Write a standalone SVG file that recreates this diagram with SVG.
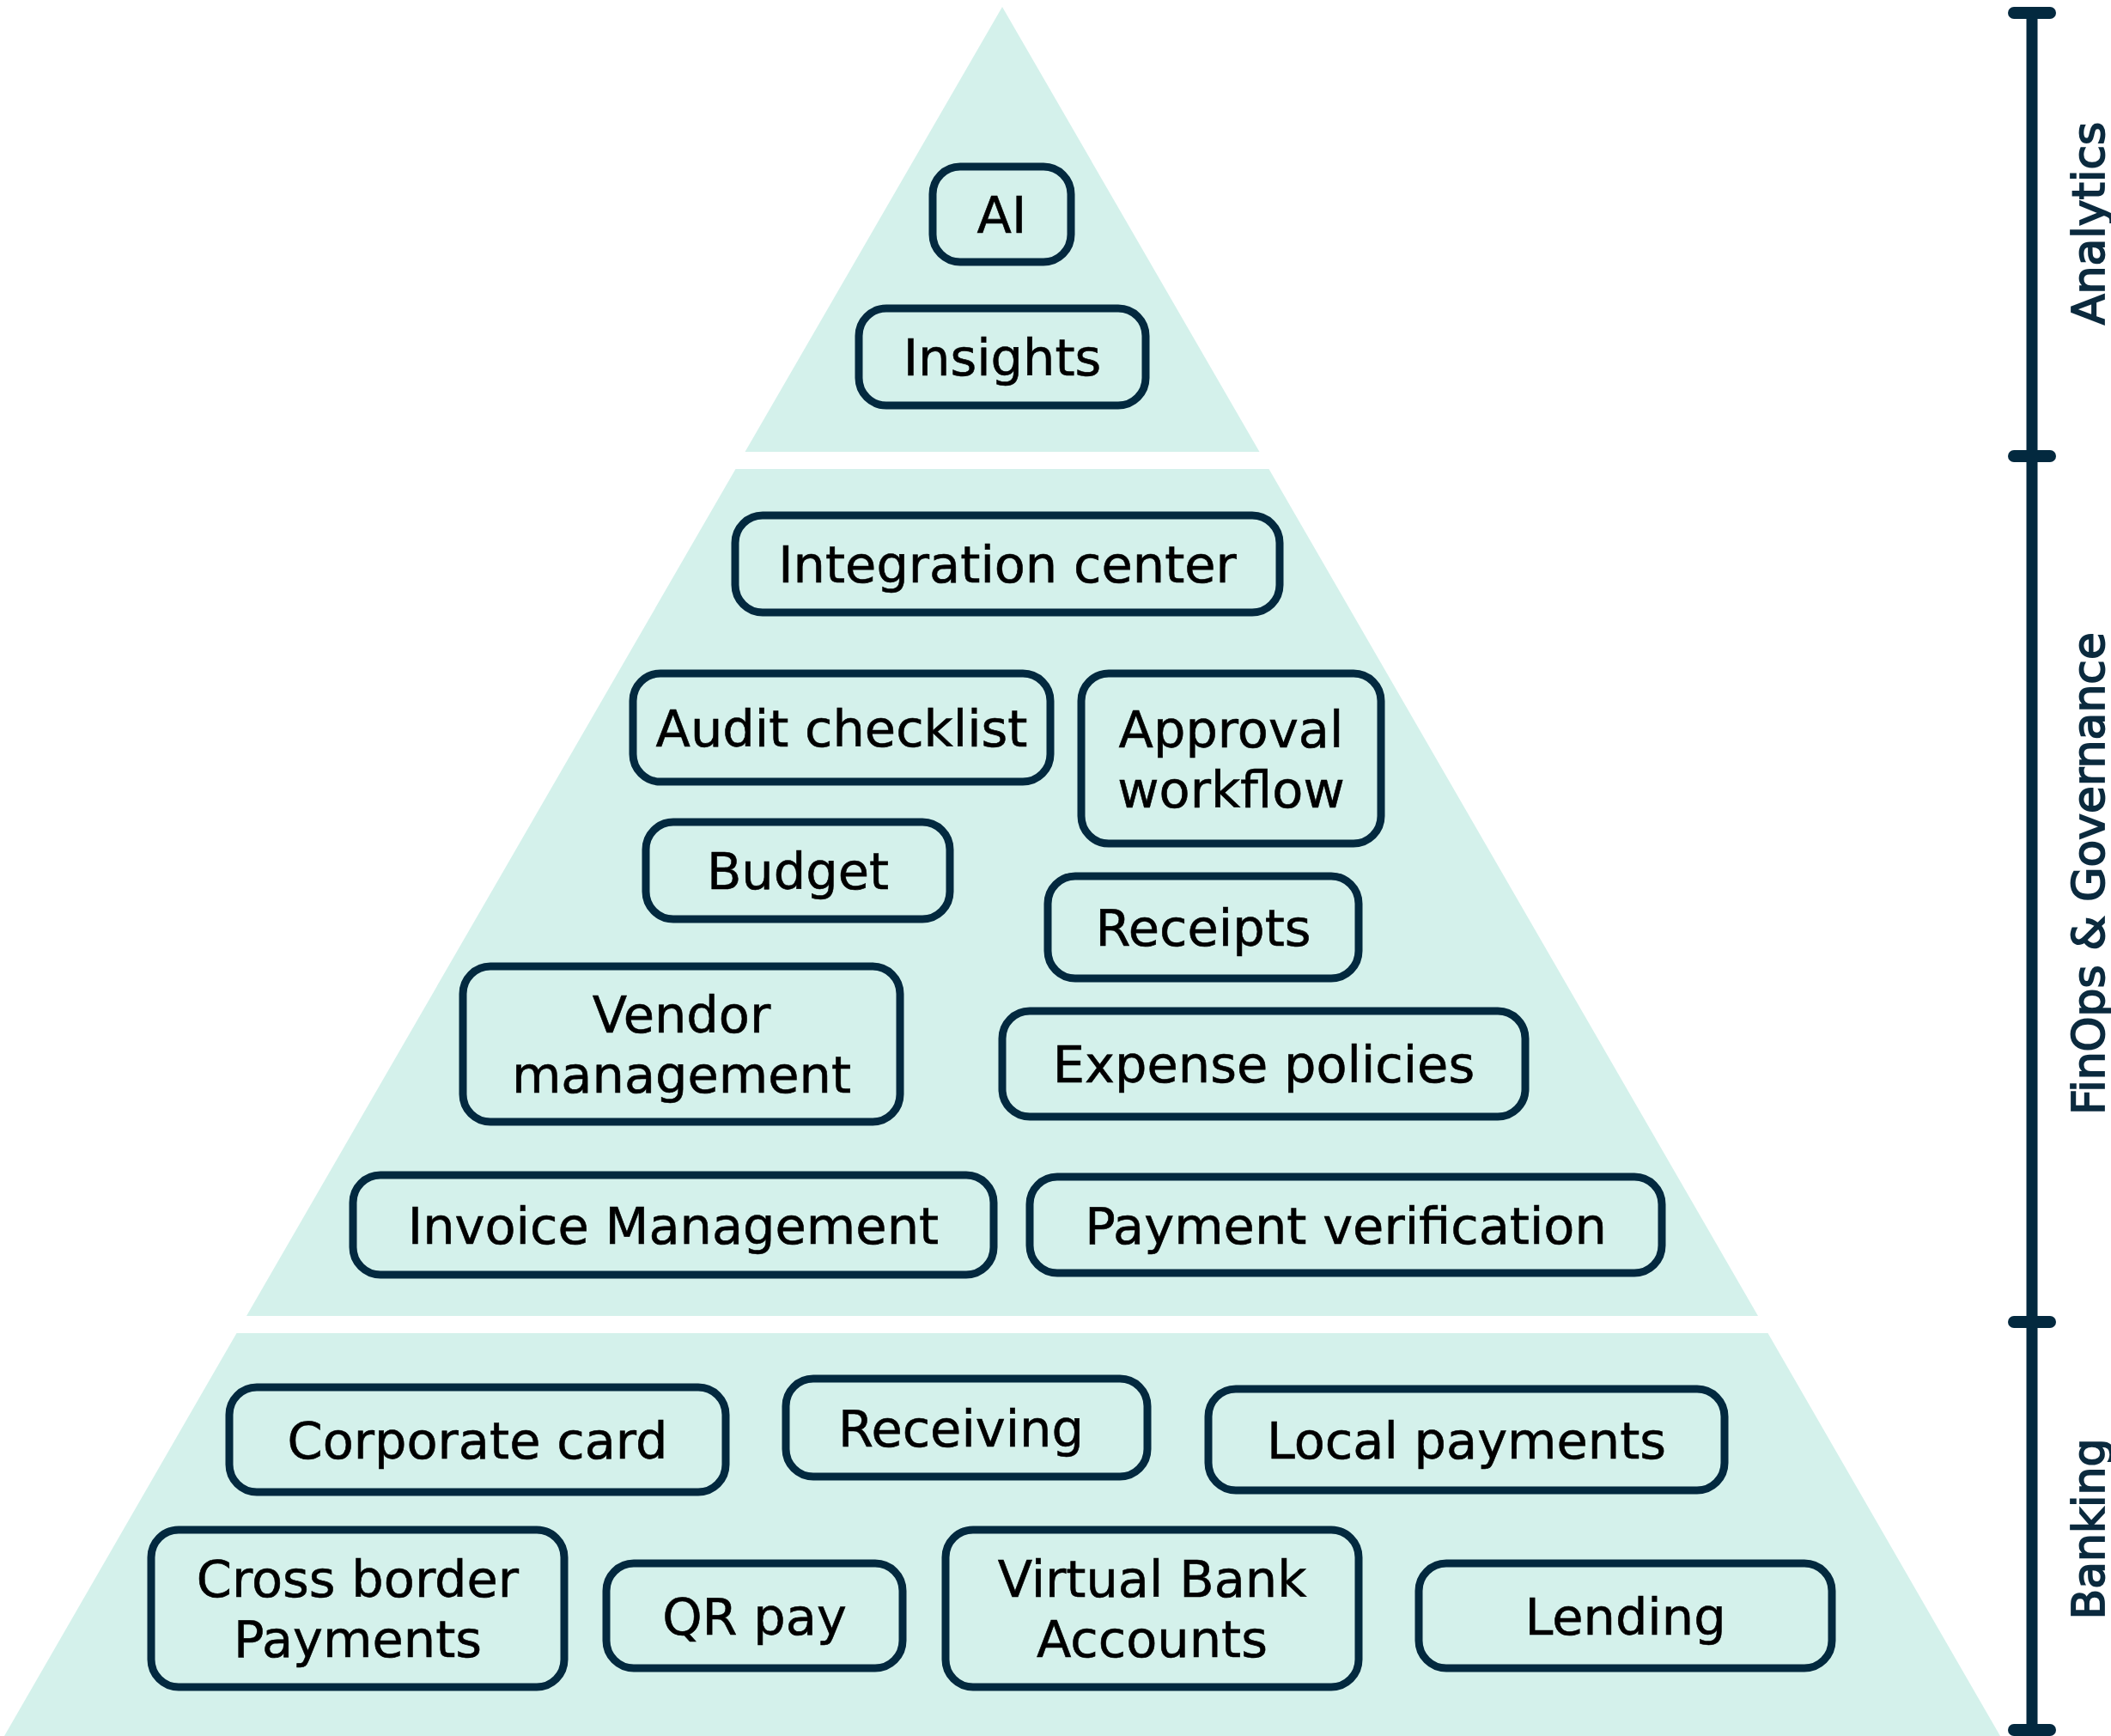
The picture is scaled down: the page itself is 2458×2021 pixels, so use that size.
<svg xmlns="http://www.w3.org/2000/svg" width="2458" height="2021" viewBox="0 0 2458 2021">
  <style>
    .tier { fill: #d4f1eb; }
    .box { fill: #d4f1eb; stroke: #03293f; stroke-width: 9; }
    .lbl { font-family: "DejaVu Sans", "Liberation Sans", sans-serif; font-size: 59px; fill: #000; stroke: #000; stroke-width: 0.6; text-anchor: middle; }
    .side { font-family: "DejaVu Sans", "Liberation Sans", sans-serif; font-size: 52px; fill: #0b2a3e; stroke: #0b2a3e; stroke-width: 1.8; text-anchor: middle; }
    .axis { stroke: #03293f; stroke-width: 13; fill: none; }
    .tick { stroke: #03293f; stroke-width: 14; stroke-linecap: round; fill: none; }
  </style>
  <rect width="2458" height="2021" fill="#ffffff"/>

  <g id="tiers">
    <polygon class="tier" points="1167,8 1466.5,526 867.5,526"/>
    <polygon class="tier" points="856.5,546 1477.5,546 2047,1532 287,1532"/>
    <polygon class="tier" points="275.5,1552 2058.5,1552 2329,2021 5,2021"/>
  </g>

  <g id="axis">
    <line class="axis" x1="2366" y1="15" x2="2366" y2="2014"/>
    <line class="tick" x1="2345" y1="15" x2="2387" y2="15"/>
    <line class="tick" x1="2345" y1="531" x2="2387" y2="531"/>
    <line class="tick" x1="2345" y1="1539" x2="2387" y2="1539"/>
    <line class="tick" x1="2345" y1="2014" x2="2387" y2="2014"/>
    <text class="side" transform="translate(2450,260) rotate(-90)">Analytics</text>
    <text class="side" transform="translate(2450,1017) rotate(-90)">FinOps &amp; Governance</text>
    <text class="side" transform="translate(2450,1780) rotate(-90)">Banking</text>
  </g>

  <g id="connectors"></g>

  <g id="node-ai">
    <rect class="box" x="1086" y="194" width="161" height="111" rx="32"/>
    <text class="lbl" x="1166.5" y="271">AI</text>
  </g>
  <g id="node-insights">
    <rect class="box" x="1000" y="359" width="334" height="113" rx="32"/>
    <text class="lbl" x="1167" y="437">Insights</text>
  </g>
  <g id="node-integration-center">
    <rect class="box" x="856" y="600" width="634" height="113" rx="32"/>
    <text class="lbl" x="1173" y="678">Integration center</text>
  </g>
  <g id="node-audit-checklist">
    <rect class="box" x="737" y="784" width="486" height="126" rx="32"/>
    <text class="lbl" x="980" y="868.5">Audit checklist</text>
  </g>
  <g id="node-approval-workflow">
    <rect class="box" x="1259" y="784" width="349" height="198" rx="32"/>
    <text class="lbl" x="1433.5" y="869.5">Approval</text>
    <text class="lbl" x="1433.5" y="939.5">workflow</text>
  </g>
  <g id="node-budget">
    <rect class="box" x="752" y="957" width="354" height="113" rx="32"/>
    <text class="lbl" x="929" y="1035">Budget</text>
  </g>
  <g id="node-receipts">
    <rect class="box" x="1220" y="1020" width="362" height="119" rx="32"/>
    <text class="lbl" x="1401" y="1101">Receipts</text>
  </g>
  <g id="node-vendor-management">
    <rect class="box" x="539" y="1125" width="509" height="181" rx="32"/>
    <text class="lbl" x="793.5" y="1202">Vendor</text>
    <text class="lbl" x="793.5" y="1272">management</text>
  </g>
  <g id="node-expense-policies">
    <rect class="box" x="1167" y="1177" width="609" height="123" rx="32"/>
    <text class="lbl" x="1471.5" y="1260">Expense policies</text>
  </g>
  <g id="node-invoice-management">
    <rect class="box" x="411" y="1368" width="746" height="116" rx="32"/>
    <text class="lbl" x="784" y="1447.5">Invoice Management</text>
  </g>
  <g id="node-payment-verification">
    <rect class="box" x="1199" y="1370" width="736" height="112" rx="32"/>
    <text class="lbl" x="1567" y="1447.5">Payment verification</text>
  </g>
  <g id="node-corporate-card">
    <rect class="box" x="267" y="1615" width="578" height="122" rx="32"/>
    <text class="lbl" x="556" y="1697.5">Corporate card</text>
  </g>
  <g id="node-receiving">
    <rect class="box" x="915" y="1605" width="421" height="114" rx="32"/>
    <text class="lbl" x="1119" y="1683.5">Receiving</text>
  </g>
  <g id="node-local-payments">
    <rect class="box" x="1407" y="1617" width="601" height="118" rx="32"/>
    <text class="lbl" x="1707.5" y="1697.5">Local payments</text>
  </g>
  <g id="node-cross-border-payments">
    <rect class="box" x="176" y="1781" width="481" height="183" rx="32"/>
    <text class="lbl" x="416.5" y="1859">Cross border</text>
    <text class="lbl" x="416.5" y="1929">Payments</text>
  </g>
  <g id="node-qr-pay">
    <rect class="box" x="706" y="1820" width="345" height="122" rx="32"/>
    <text class="lbl" x="878.5" y="1902.5">QR pay</text>
  </g>
  <g id="node-virtual-bank-accounts">
    <rect class="box" x="1101" y="1781" width="481" height="183" rx="32"/>
    <text class="lbl" x="1341.5" y="1859">Virtual Bank</text>
    <text class="lbl" x="1341.5" y="1929">Accounts</text>
  </g>
  <g id="node-lending">
    <rect class="box" x="1652" y="1820" width="481" height="122" rx="32"/>
    <text class="lbl" x="1892.5" y="1902.5">Lending</text>
  </g>
</svg>
